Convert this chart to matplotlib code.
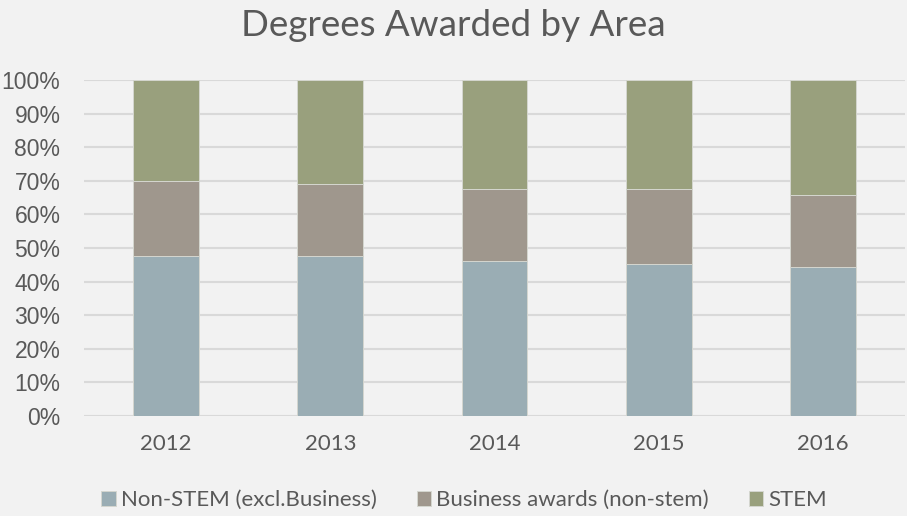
import numpy as np
import matplotlib.pyplot as plt

years = ['2012', '2013', '2014', '2015', '2016']
non_stem = [0.475, 0.475, 0.461, 0.451, 0.443]
business = [0.224, 0.215, 0.214, 0.224, 0.215]
stem = [0.301, 0.310, 0.325, 0.325, 0.342]
series_names = ['Non-STEM (excl.Business)', 'Business awards (non-stem)', 'STEM']
colors = ['#9aadb4', '#9f978d', '#99a07d']

bg = '#f2f2f2'
fig = plt.figure(figsize=(9.07, 5.16), dpi=100, facecolor=bg)
ax = fig.add_axes([84 / 907, 1 - 416 / 516, 821 / 907, 336 / 516], facecolor=bg)

x = np.arange(len(years))
bottom = np.zeros(len(years))
for vals, name, c in zip([non_stem, business, stem], series_names, colors):
    ax.bar(x, vals, width=0.4, bottom=bottom, color=c, label=name,
           edgecolor='#d4d6cf', linewidth=0.7, zorder=3)
    bottom += np.array(vals)

ax.set_xlim(-0.5, len(years) - 0.5)
ax.set_ylim(0, 1)
ax.set_yticks(np.arange(0, 1.01, 0.1))
ax.set_yticklabels([f'{int(round(v * 100))}%' for v in np.arange(0, 1.01, 0.1)],
                   family='Liberation Sans', fontsize=16.5, color='#595959')
ax.set_xticks(x)
ax.set_xticklabels(years, family='Lato', fontsize=16, color='#595959')
ax.tick_params(axis='both', length=0)
ax.tick_params(axis='y', pad=17)
ax.tick_params(axis='x', pad=13)
ax.yaxis.grid(True, color='#d9d9d9', linewidth=1.5, zorder=0)
ax.set_axisbelow(True)
for s in ax.spines.values():
    s.set_visible(False)

fig.text(0.5, 1 - 25 / 516, 'Degrees Awarded by Area', ha='center', va='center',
         family='Lato', fontsize=26.5, color='#595959')

leg = fig.legend(loc='center', bbox_to_anchor=(464 / 907, 1 - 500 / 516), ncol=3,
                 frameon=False, prop={'family': 'Lato', 'size': 16},
                 handlelength=0.65, handleheight=0.65, handletextpad=0.22,
                 columnspacing=1.8, labelcolor='#595959')

fig.savefig('out.png', dpi=100, facecolor=bg)
